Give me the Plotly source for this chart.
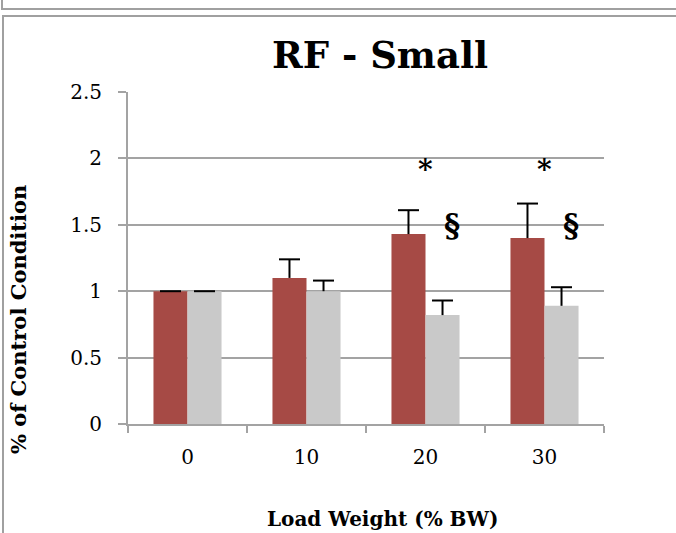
import plotly.graph_objects as go

categories = ["0", "10", "20", "30"]
red_values = [1.0, 1.10, 1.43, 1.40]
red_errors = [0.0, 0.14, 0.18, 0.26]
gray_values = [1.0, 1.0, 0.82, 0.89]
gray_errors = [0.0, 0.08, 0.11, 0.14]
star_labels = ["", "", "*", "*"]
section_labels = ["", "", "§", "§"]
y_ticks = [0, 0.5, 1, 1.5, 2, 2.5]
y_tick_text = ["0", "0.5", "1", "1.5", "2", "2.5"]

W, H = 676, 533
L, R, T, B = 128, 604, 92, 424
PW, PH = R - L, B - T

def px(x):
    return (x - L) / PW

def py(y):
    return (B - y) / PH

SERIF = "DejaVu Serif"
RED = "#A64A45"
GRAY = "#C9C9C9"
GRID = "#A3A3A3"
BW = 0.286  # bar width in category units

idx = list(range(len(categories)))
red_x = [i - BW / 2 for i in idx]
gray_x = [i + BW / 2 for i in idx]

fig = go.Figure()
fig.add_trace(go.Bar(x=idx, y=red_values, offset=-BW, width=BW,
                     marker=dict(color=RED, line=dict(width=0)), showlegend=False))
fig.add_trace(go.Bar(x=idx, y=gray_values, offset=0, width=BW,
                     marker=dict(color=GRAY, line=dict(width=0)), showlegend=False))

for xs, vals, errs in [(red_x, red_values, red_errors), (gray_x, gray_values, gray_errors)]:
    tops = [v + e for v, e in zip(vals, errs)]
    fig.add_trace(go.Scatter(
        x=xs, y=tops, mode="markers",
        marker=dict(symbol="line-ew-open", size=15, color="black", line=dict(color="black", width=2)),
        error_y=dict(type="data", array=[0] * len(errs), arrayminus=errs, symmetric=False,
                     color="black", thickness=2, width=0),
        showlegend=False, hoverinfo="skip"))

annotations = []
for i, s in zip(idx, star_labels):
    if s:
        annotations.append(dict(x=i, y=1.92, xref="x", yref="y", text="<b>" + s + "</b>",
                                showarrow=False, font=dict(family=SERIF, size=28, color="black")))
for i, s in zip(idx, section_labels):
    if s:
        annotations.append(dict(x=i, y=1.5, xref="x", yref="y", text="<b>" + s + "</b>",
                                showarrow=False, font=dict(family=SERIF, size=31, color="black"),
                                xshift=26))

annotations.append(dict(x=px(380), y=py(55), xref="paper", yref="paper", text="<b>RF - Small</b>",
                        showarrow=False, font=dict(family=SERIF, size=37, color="black"),
                        xanchor="center", yanchor="middle"))
annotations.append(dict(x=px(382), y=py(519), xref="paper", yref="paper", text="<b>Load Weight (% BW)</b>",
                        showarrow=False, font=dict(family=SERIF, size=20, color="black"),
                        xanchor="center", yanchor="middle"))
annotations.append(dict(x=px(18), y=py(320), xref="paper", yref="paper", text="<b>% of Control Condition</b>",
                        showarrow=False, textangle=-90, font=dict(family=SERIF, size=21, color="black"),
                        xanchor="center", yanchor="middle"))

frame = dict(color="#A0A0A0", width=2)
frame_path = (
    "M {x0},{y0} L {x0},{y1} L {x2},{y1} "
    "M {x3},{y3} L {x2},{y3} M {x3},{y3} L {x3},{y4}"
)
shapes = [
    dict(type="path", xref="paper", yref="paper",
         path=f"M {px(2)},{py(0)} L {px(2)},{py(9)} L {px(676)},{py(9)} "
              f"M {px(676)},{py(16)} L {px(3)},{py(16)} L {px(3)},{py(533)}",
         line=frame, fillcolor="rgba(0,0,0,0)"),
]

fig.update_layout(
    width=W, height=H,
    margin=dict(l=L, r=W - R, t=T, b=H - B),
    paper_bgcolor="white", plot_bgcolor="white",
    barmode="overlay",
    annotations=annotations, shapes=shapes,
    font=dict(family=SERIF, size=20, color="black"),
)
fig.update_xaxes(
    range=[-0.5, len(categories) - 0.5], tickvals=idx, ticktext=categories,
    showline=True, linecolor=GRID, linewidth=2,
    ticks="outside", ticklen=0, ticklabelstandoff=14,
    minor=dict(tickvals=[i - 0.5 for i in range(len(categories) + 1)], ticks="outside",
               ticklen=7, tickcolor=GRID, tickwidth=2, showgrid=False),
    showgrid=False, zeroline=False, tickfont=dict(family=SERIF, size=20, color="black"),
)
fig.update_yaxes(
    range=[0, 2.5], tickvals=y_ticks, ticktext=y_tick_text,
    showline=True, linecolor=GRID, linewidth=2,
    ticks="outside", ticklen=8, tickcolor=GRID, tickwidth=2, ticklabelstandoff=12,
    showgrid=True, gridcolor=GRID, gridwidth=2, zeroline=False,
    tickfont=dict(family=SERIF, size=20, color="black"),
)

fig.write_html("out.html", config={"displayModeBar": False})
